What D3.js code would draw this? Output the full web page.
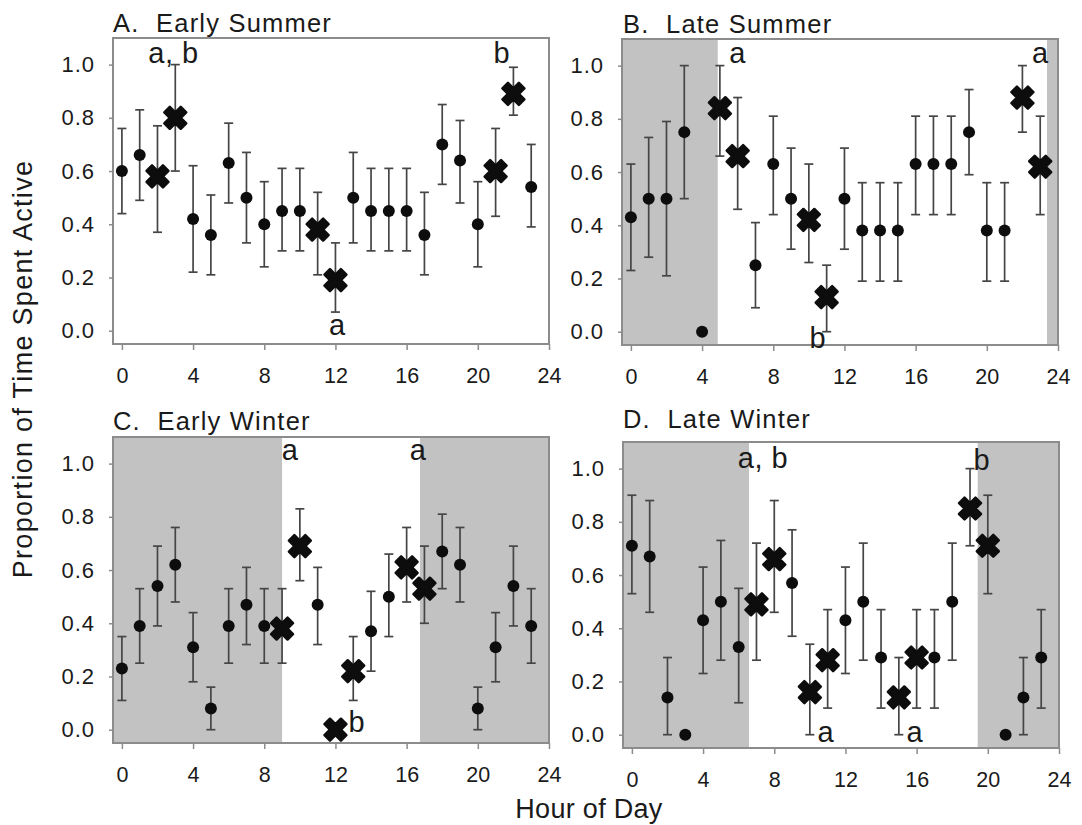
<!DOCTYPE html>
<html><head><meta charset="utf-8">
<script src="https://cdn.jsdelivr.net/npm/d3@7"></script>
<style>
body{margin:0;background:#fff}
svg{display:block}
text{font-family:"Liberation Sans",Arial,Helvetica,sans-serif;fill:#1a1a1a}
</style>
</head><body>
<svg id="chart" width="1082" height="825"></svg>
<script>
// ---------- data ----------
const hours = [0,1,2,3,4,5,6,7,8,9,10,11,12,13,14,15,16,17,18,19,20,21,22,23];
const xTicks = [0,4,8,12,16,20,24];
const yTicks = [0.0,0.2,0.4,0.6,0.8,1.0];
const panelTitles = ["A.  Early Summer","B.  Late Summer","C.  Early Winter","D.  Late Winter"];
const yAxisTitle = "Proportion of Time Spent Active";
const xAxisTitle = "Hour of Day";

const earlySummerMean = [0.60,0.66,0.58,0.80,0.42,0.36,0.63,0.50,0.40,0.45,0.45,0.38,0.19,0.50,0.45,0.45,0.45,0.36,0.70,0.64,0.40,0.60,0.89,0.54];
const earlySummerLow  = [0.44,0.49,0.37,0.60,0.22,0.21,0.48,0.33,0.24,0.30,0.30,0.21,0.07,0.33,0.30,0.30,0.30,0.21,0.55,0.48,0.24,0.43,0.81,0.39];
const earlySummerHigh = [0.76,0.83,0.77,1.00,0.62,0.51,0.78,0.67,0.56,0.61,0.61,0.52,0.33,0.67,0.61,0.61,0.61,0.52,0.85,0.79,0.56,0.76,0.99,0.70];
const earlySummerFlagged = [2,3,11,12,21,22];
const earlySummerNight = [];
const earlySummerLetters = [["a, b",2.9,1.005],["a",12.1,-0.016],["b",21.35,1.006]];

const lateSummerMean = [0.43,0.50,0.50,0.75,0.00,0.84,0.66,0.25,0.63,0.50,0.42,0.13,0.50,0.38,0.38,0.38,0.63,0.63,0.63,0.75,0.38,0.38,0.88,0.62];
const lateSummerLow  = [0.23,0.28,0.21,0.50,null,0.66,0.46,0.09,0.44,0.31,0.26,0.00,0.31,0.19,0.19,0.19,0.44,0.44,0.44,0.59,0.19,0.19,0.75,0.44];
const lateSummerHigh = [0.63,0.73,0.79,1.00,null,1.00,0.88,0.41,0.81,0.69,0.63,0.25,0.69,0.56,0.56,0.56,0.81,0.81,0.81,0.91,0.56,0.56,1.00,0.81];
const lateSummerFlagged = [5,6,10,11,22,23];
const lateSummerNight = [[-0.5,4.88],[23.38,24]];
const lateSummerLetters = [["a",6.0,1.01],["b",10.5,-0.06],["a",23.0,1.01]];

const earlyWinterMean = [0.23,0.39,0.54,0.62,0.31,0.08,0.39,0.47,0.39,0.38,0.69,0.47,0.00,0.22,0.37,0.50,0.61,0.53,0.67,0.62,0.08,0.31,0.54,0.39];
const earlyWinterLow  = [0.11,0.25,0.39,0.48,0.18,0.00,0.25,0.32,0.25,0.25,0.56,0.32,null,0.11,0.22,0.35,0.48,0.40,0.53,0.48,0.00,0.18,0.39,0.25];
const earlyWinterHigh = [0.35,0.53,0.69,0.76,0.44,0.16,0.53,0.61,0.53,0.53,0.83,0.61,null,0.35,0.52,0.66,0.76,0.69,0.81,0.76,0.16,0.44,0.69,0.53];
const earlyWinterFlagged = [9,10,12,13,16,17];
const earlyWinterNight = [[-0.5,9.0],[16.75,24]];
const earlyWinterLetters = [["a",9.45,1.014],["a",16.64,1.014],["b",13.2,-0.009]];

const lateWinterMean = [0.71,0.67,0.14,0.00,0.43,0.50,0.33,0.49,0.66,0.57,0.16,0.28,0.43,0.50,0.29,0.14,0.29,0.29,0.50,0.85,0.71,0.00,0.14,0.29];
const lateWinterLow  = [0.53,0.46,0.00,null,0.23,0.28,0.12,0.28,0.46,0.37,0.00,0.10,0.23,0.28,0.10,0.00,0.10,0.10,0.28,0.71,0.53,null,0.00,0.10];
const lateWinterHigh = [0.90,0.88,0.29,null,0.63,0.73,0.55,0.72,0.88,0.77,0.34,0.47,0.63,0.72,0.47,0.29,0.47,0.47,0.72,1.00,0.90,null,0.29,0.47];
const lateWinterFlagged = [7,8,10,11,15,16,19,20];
const lateWinterNight = [[-0.5,6.58],[19.43,24]];
const lateWinterLetters = [["a, b",7.37,1.002],["a",10.9,-0.027],["a",15.9,-0.027],["b",19.67,0.995]];

// ---------- layout ----------
const W = 436, H = 306;
const layout = [
  {left:113, top:38, titleX:113, titleY:32},
  {left:622, top:39, titleX:623, titleY:33},
  {left:113, top:437, titleX:113, titleY:430},
  {left:623, top:442, titleX:623, titleY:428}
];

const panels = [
  {title:panelTitles[0], mean:earlySummerMean, low:earlySummerLow, high:earlySummerHigh, flagged:earlySummerFlagged, night:earlySummerNight, letters:earlySummerLetters},
  {title:panelTitles[1], mean:lateSummerMean, low:lateSummerLow, high:lateSummerHigh, flagged:lateSummerFlagged, night:lateSummerNight, letters:lateSummerLetters},
  {title:panelTitles[2], mean:earlyWinterMean, low:earlyWinterLow, high:earlyWinterHigh, flagged:earlyWinterFlagged, night:earlyWinterNight, letters:earlyWinterLetters},
  {title:panelTitles[3], mean:lateWinterMean, low:lateWinterLow, high:lateWinterHigh, flagged:lateWinterFlagged, night:lateWinterNight, letters:lateWinterLetters}
];

const svg = d3.select("#chart");
const frameColor = "#8c8c8c";
const shade = "#c2c2c2";
const barColor = "#454545";
const markColor = "#0d0d0d";

const x = d3.scaleLinear().domain([-0.5,24]).range([0,W]);
const y = d3.scaleLinear().domain([-0.05,1.1]).range([H,0]);
const crossSym = d3.symbol().type(d3.symbolCross).size(300);

panels.forEach((p,i) => {
  const L = layout[i];
  const g = svg.append("g").attr("transform",`translate(${L.left},${L.top})`);

  // night shading
  g.selectAll("rect.night").data(p.night).join("rect")
    .attr("class","night")
    .attr("x",d=>x(d[0])).attr("width",d=>x(d[1])-x(d[0]))
    .attr("y",0).attr("height",H)
    .attr("fill",shade);

  // axes
  const xa = g.append("g").attr("transform",`translate(0,${H})`)
    .call(d3.axisBottom(x).tickValues(xTicks).tickSize(6).tickSizeOuter(0).tickPadding(18).tickFormat(d3.format("d")));
  xa.select(".domain").remove();
  xa.selectAll("line").attr("stroke",frameColor).attr("stroke-width",1.5);
  xa.selectAll("text").attr("font-size",21.5).style("fill","#1a1a1a");

  const ya = g.append("g")
    .call(d3.axisLeft(y).tickValues(yTicks).tickSize(4).tickSizeOuter(0).tickPadding(14).tickFormat(d3.format(".1f")));
  ya.select(".domain").remove();
  ya.selectAll("line").attr("stroke",frameColor).attr("stroke-width",1.5);
  ya.selectAll("text").attr("font-size",22).attr("letter-spacing",1).style("fill","#1a1a1a");
  [xa,ya].forEach(a=>a.attr("font-family",null).attr("font-size",null));

  // frame
  g.append("rect").attr("x",0).attr("y",0).attr("width",W).attr("height",H)
    .attr("fill","none").attr("stroke",frameColor).attr("stroke-width",2);

  const rows = hours.map((h,k)=>({h, m:p.mean[k], lo:p.low[k], hi:p.high[k], flag:p.flagged.includes(h)}));
  const withBars = rows.filter(r=>r.lo!==null && r.hi!==null);

  // error bars
  const eb = g.append("g").attr("stroke",barColor).attr("stroke-width",1.7).attr("fill","none");
  eb.selectAll("line.v").data(withBars).join("line").attr("class","v")
    .attr("x1",d=>x(d.h)).attr("x2",d=>x(d.h)).attr("y1",d=>y(d.lo)).attr("y2",d=>y(d.hi));
  eb.selectAll("line.t").data(withBars).join("line").attr("class","t")
    .attr("x1",d=>x(d.h)-4.5).attr("x2",d=>x(d.h)+4.5).attr("y1",d=>y(d.hi)).attr("y2",d=>y(d.hi));
  eb.selectAll("line.b").data(withBars).join("line").attr("class","b")
    .attr("x1",d=>x(d.h)-4.5).attr("x2",d=>x(d.h)+4.5).attr("y1",d=>y(d.lo)).attr("y2",d=>y(d.lo));

  // circles
  g.selectAll("circle.pt").data(rows.filter(r=>!r.flag)).join("circle")
    .attr("class","pt").attr("cx",d=>x(d.h)).attr("cy",d=>y(d.m)).attr("r",6)
    .attr("fill",markColor);

  // X markers
  g.selectAll("path.xm").data(rows.filter(r=>r.flag)).join("path")
    .attr("class","xm").attr("d",crossSym)
    .attr("transform",d=>`translate(${x(d.h)},${y(d.m)}) rotate(45)`)
    .attr("fill",markColor).attr("stroke",markColor).attr("stroke-width",2.5).attr("stroke-linejoin","round");

  // significance letters
  g.selectAll("text.let").data(p.letters).join("text")
    .attr("class","let").attr("x",d=>x(d[1])).attr("y",d=>y(d[2]))
    .attr("text-anchor","middle").attr("font-size",29).attr("letter-spacing",0.5)
    .text(d=>d[0]);

  // title
  svg.append("text").attr("x",L.titleX).attr("y",L.titleY)
    .attr("font-size",25.5).attr("letter-spacing",1.2)
    .attr("xml:space","preserve").style("white-space","pre")
    .text(p.title);
});

svg.append("text")
  .attr("transform","translate(32,369) rotate(-90)")
  .attr("text-anchor","middle").attr("font-size",27).attr("letter-spacing",1.3)
  .text(yAxisTitle);

svg.append("text").attr("x",589).attr("y",818)
  .attr("text-anchor","middle").attr("font-size",27).attr("letter-spacing",0.3)
  .text(xAxisTitle);
</script>
</body></html>
